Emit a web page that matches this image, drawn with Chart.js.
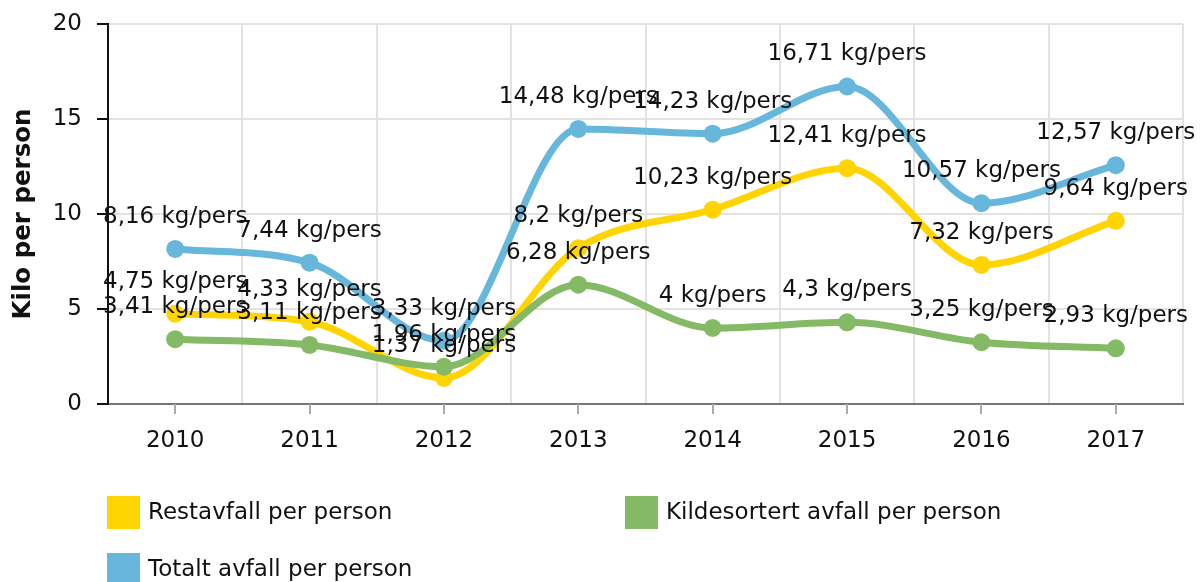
<!DOCTYPE html>
<html>
<head>
<meta charset="utf-8">
<script src="https://cdn.jsdelivr.net/npm/chart.js@4.4.1/dist/chart.umd.min.js"></script>
<style>
  body { margin: 0; background: #fff; }
  #wrap { position: relative; width: 1200px; height: 582px; overflow: hidden; }
  .leg { position: absolute; font: 23px "DejaVu Sans", Verdana, sans-serif; color: #111; white-space: nowrap; }
  .leg span { position: absolute; left: 0; top: 0; width: 33px; height: 33px; }
  .leg b { position: absolute; left: 41px; top: 2px; font-weight: normal; }
</style>
</head>
<body>
<div id="wrap">
  <canvas id="wasteChart" width="1200" height="582"></canvas>
</div>
<script>
const years = ['2010', '2011', '2012', '2013', '2014', '2015', '2016', '2017'];
const restavfall = [4.75, 4.33, 1.37, 8.2, 10.23, 12.41, 7.32, 9.64];
const kildesortert = [3.41, 3.11, 1.96, 6.28, 4, 4.3, 3.25, 2.93];
const totalt = [8.16, 7.44, 3.33, 14.48, 14.23, 16.71, 10.57, 12.57];
const yTicks = [0, 5, 10, 15, 20];

const seriesNames = ['Restavfall per person', 'Kildesortert avfall per person', 'Totalt avfall per person'];
const seriesColors = ['#FFD400', '#84BA65', '#67B7DC'];

const FONT = '"DejaVu Sans", Verdana, sans-serif';

// legend in two columns like the original
const legendPos = [[107, 496], [625, 496], [107, 553]];
seriesNames.forEach((name, i) => {
    const d = document.createElement('div');
    d.className = 'leg';
    d.style.left = legendPos[i][0] + 'px';
    d.style.top = legendPos[i][1] + 'px';
    d.innerHTML = '<span style="background:' + seriesColors[i] + '"></span><b>' + name + '</b>';
    document.getElementById('wrap').appendChild(d);
});

// value labels above each point + small tick marks at category centres
const pointLabels = {
    id: 'pointLabels',
    afterDatasetsDraw(chart) {
        const ctx = chart.ctx;
        const xs = chart.scales.x;
        ctx.save();
        ctx.strokeStyle = '#aaa';
        ctx.lineWidth = 2;
        years.forEach((y, i) => {
            const px = Math.round(xs.getPixelForValue(i));
            ctx.beginPath();
            ctx.moveTo(px, chart.chartArea.bottom);
            ctx.lineTo(px, chart.chartArea.bottom + 10);
            ctx.stroke();
        });
        ctx.font = '23px ' + FONT;
        ctx.fillStyle = '#111';
        ctx.textAlign = 'center';
        ctx.textBaseline = 'middle';
        chart.data.datasets.forEach((ds, di) => {
            const meta = chart.getDatasetMeta(di);
            meta.data.forEach((pt, i) => {
                const txt = String(ds.data[i]).replace('.', ',') + ' kg/pers';
                ctx.fillText(txt, pt.x, pt.y - 32);
            });
        });
        ctx.restore();
    }
};

const data = {
    labels: years,
    datasets: [
        { label: seriesNames[0], data: restavfall, order: 2 },
        { label: seriesNames[1], data: kildesortert, order: 1 },
        { label: seriesNames[2], data: totalt, order: 0 }
    ].map((d, i) => Object.assign(d, {
        borderColor: seriesColors[i],
        backgroundColor: seriesColors[i],
        borderWidth: 7,
        pointRadius: 9,
        pointHoverRadius: 9,
        pointBorderWidth: 0,
        cubicInterpolationMode: 'monotone',
        clip: false
    }))
};

const config = {
    type: 'line',
    data: data,
    plugins: [pointLabels],
    options: {
        responsive: false,
        animation: false,
        layout: { padding: { top: 24, right: 17, left: 0, bottom: 0 } },
        plugins: {
            legend: { display: false },
            tooltip: { enabled: false }
        },
        scales: {
            x: {
                offset: true,
                grid: { offset: true, color: '#e2e2e2', lineWidth: 2, drawTicks: false },
                border: { color: '#777', width: 2 },
                ticks: { font: { family: FONT, size: 23 }, color: '#111', padding: 23, maxRotation: 0 },
                afterFit: s => { s.height = 178; s.paddingLeft = 0; s.paddingRight = 0; }
            },
            y: {
                min: 0,
                max: 20,
                afterBuildTicks: s => { s.ticks = yTicks.map(v => ({ value: v })); },
                grid: { color: '#e2e2e2', lineWidth: 2, tickColor: '#111', tickLength: 11 },
                border: { color: '#111', width: 2 },
                ticks: { font: { family: FONT, size: 23 }, color: '#111', padding: 15 },
                title: {
                    display: true,
                    text: 'Kilo per person',
                    font: { family: FONT, size: 24.5, weight: 'bold' },
                    color: '#111',
                    padding: { top: 9, bottom: 0 }
                },
                afterFit: s => { s.width = 108; s.paddingTop = 0; s.paddingBottom = 0; }
            }
        }
    }
};

new Chart(document.getElementById('wasteChart'), config);
</script>
</body>
</html>
